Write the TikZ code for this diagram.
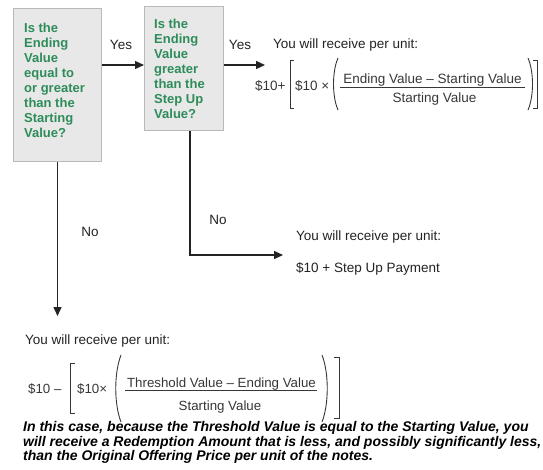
\documentclass[tikz,border=0pt]{standalone}
\usepackage{fontspec}
\setmainfont{Liberation Sans}
\usetikzlibrary{arrows.meta,calc}
\definecolor{qgreen}{RGB}{46,140,90}
\definecolor{boxfill}{RGB}{232,232,232}
\definecolor{boxline}{RGB}{185,185,185}
\definecolor{ink}{RGB}{35,35,35}
\definecolor{fink}{RGB}{55,55,55}
\begin{document}
\begin{tikzpicture}[x=1pt,y=-1pt,
  qbox/.style={draw=boxline, fill=boxfill, line width=1pt, inner sep=0pt},
  qtext/.style={text=qgreen, font=\fontsize{13}{15}\selectfont\bfseries, align=left, inner sep=0pt, anchor=north west},
  lbl/.style={font=\fontsize{13.5}{15}\selectfont, inner sep=0pt, text=ink},
  fa/.style={font=\fontsize{13.5}{15}\selectfont, inner sep=0pt, text=fink},
  fb/.style={font=\fontsize{13.3}{15}\selectfont, inner sep=0pt, text=fink},
  fline/.style={draw=fink, line width=0.9pt},
  delim/.style={draw=fink, line width=0.9pt},
  note/.style={font=\fontsize{14}{14.3}\selectfont\bfseries\itshape, inner sep=0pt, align=left, anchor=north west, text=black},
  flow/.style={draw=ink, line width=1.4pt},
  arr/.style={flow, -{Triangle[length=9pt,width=8pt]}},
]
\path[use as bounding box] (0,0) rectangle (543,469);
% question boxes
\node[qbox, minimum width=88pt, minimum height=153pt, anchor=north west] (b1) at (13,8) {};
\node[qtext] (t1) at (24,22.7) {Is the\\Ending\\Value\\equal to\\or greater\\than the\\Starting\\Value?};
\node[qbox, minimum width=79pt, minimum height=124pt, anchor=north west] (b2) at (144,6) {};
\node[qtext] (t2) at (154,19.3) {Is the\\Ending\\Value\\greater\\than the\\Step Up\\Value?};
% yes arrows
\coordinate (ya) at (0,65);
\draw[arr] (b1.east|-ya) -- (b2.west|-ya);
\node[lbl] (y1) at (121,45) {Yes};
\coordinate (e2) at (265,65);
\draw[arr] (b2.east|-ya) -- (e2);
\node[lbl] (y2) at (240,45) {Yes};
\node[lbl, anchor=west] (r1) at (273,45) {You will receive per unit:};
% formula 1
\node[fa, anchor=base west] (f1a) at (255,90) {\$10+};
\node[fa, anchor=base west] (f1b) at (295,90) {\$10 ×};
\node[fa, anchor=base] (f1n) at (432.5,83.5) {Ending Value -- Starting Value};
\node[fa, anchor=base] (f1d) at (434.5,102.5) {Starting Value};
\draw[fline] (340,87) -- (525,87);
\draw[delim] (294,60) -- (290,60) -- (290,108) -- (294,108);
\draw[delim] (338,58) .. controls (332,72) and (332,96) .. (338,110);
\draw[delim] (528,58) .. controls (534,72) and (534,96) .. (528,110);
\draw[delim] (533,60) -- (537,60) -- (537,108) -- (533,108);
% second no
\coordinate (e3) at (283,255);
\draw[arr] ([xshift=6pt]b2.south) |- (e3);
\node[lbl] (n2) at (218,220) {No};
\node[lbl, anchor=west] (r2) at (296,237) {You will receive per unit:};
\node[lbl, anchor=west] (r2b) at (296,269) {\$10 + Step Up Payment};
% first no
\coordinate (y4) at (0,316);
\draw[arr] (b1.south) -- (b1.south|-y4);
\node[lbl] (n1) at (90,232) {No};
\node[lbl, anchor=west] (r3) at (25,341) {You will receive per unit:};
% formula 2
\node[fb, anchor=base west] (f2a) at (28,393) {\$10 --};
\node[fb, anchor=base west] (f2b) at (77,393) {\$10×};
\node[fb, anchor=base] (f2n) at (221.5,387.5) {Threshold Value -- Ending Value};
\node[fb, anchor=base] (f2d) at (220,410.5) {Starting Value};
\draw[fline] (125,390) -- (317,390);
\draw[delim] (75,363) -- (70,363) -- (70,413) -- (75,413);
\draw[delim] (121,355) .. controls (114,373) and (114,404) .. (121,422);
\draw[delim] (322,355) .. controls (329,373) and (329,404) .. (322,422);
\draw[delim] (334,357) -- (339,357) -- (339,418) -- (334,418);
\node[note] (p) at (23,421.5) {In this case, because the Threshold Value is equal to the Starting Value, you\\will receive a Redemption Amount that is less, and possibly significantly less,\\than the Original Offering Price per unit of the notes.};
\end{tikzpicture}
\end{document}
